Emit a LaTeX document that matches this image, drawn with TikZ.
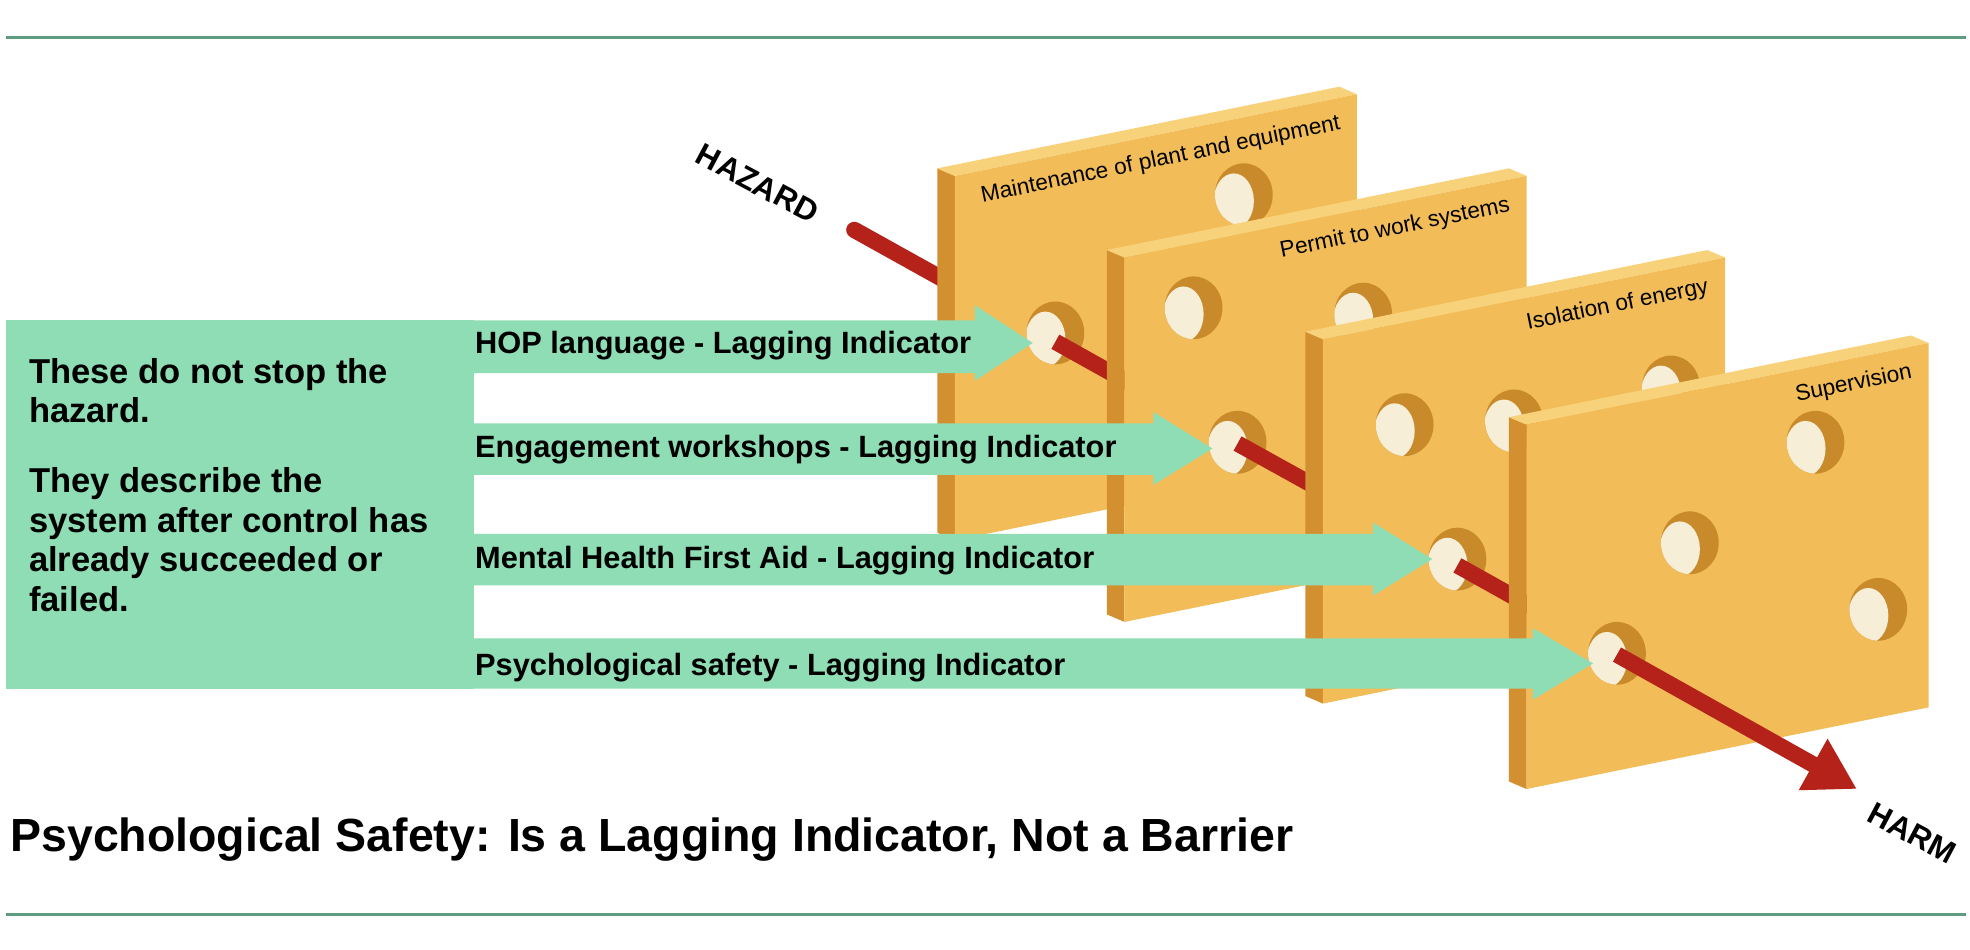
\documentclass[tikz,border=0pt]{standalone}
\usepackage{fontspec}
\setmainfont{Liberation Sans}
\usetikzlibrary{calc,arrows.meta}
\definecolor{gbox}{HTML}{8FDDB5}
\definecolor{gline}{HTML}{5E9C80}
\definecolor{redl}{HTML}{B5221A}
\definecolor{pfront}{HTML}{F2BD58}
\definecolor{pside}{HTML}{D39030}
\definecolor{ptop}{HTML}{F8D27A}
\definecolor{hdark}{HTML}{C98A2C}
\definecolor{hlight}{HTML}{F6EED6}
\tikzset{
  lbl/.style={font=\fontsize{18}{20}\selectfont, rotate=11.5, anchor=north east, inner sep=0pt},
  armtext/.style={font=\bfseries\fontsize{24.5}{26}\selectfont, anchor=west, inner sep=0pt},
  redseg/.style={redl, line width=13pt},
  redarrow/.style={redl, line width=13pt, -{Triangle[length=40pt,width=44pt]}},
}
\newcommand\slab[4]{%
  \fill[pside] (#1,#2) -- ++(-14,-6) -- ++(0,290) -- ++(14,6) -- cycle;
  \fill[ptop] (#1,#2) -- ++(-14,-6) -- ++(320,-65) -- ++(14,6) -- cycle;
  \fill[pfront] (#1,#2) -- ++(320,-65) -- ++(0,290) -- ++(-320,65) -- cycle;
  \node[lbl] (#4) at ($(#1,#2)+(305,-50)$) {#3};}
\newcommand\hole[2]{%
  \begin{scope}
  \fill[hdark] (#1,#2) ellipse [x radius=23, y radius=25];
  \clip (#1,#2) ellipse [x radius=23, y radius=25];
  \fill[hlight] (#1-8,#2+5) ellipse [x radius=16, y radius=22];
  \end{scope}}
\begin{document}
\begin{tikzpicture}[x=1pt,y=-1pt]
\useasboundingbox (0,0) rectangle (1568,756);
\fill[white] (0,0) rectangle (1568,756);
\draw[gline, line width=2pt] (5,30) -- (1565,30);
\draw[gline, line width=2pt] (5,728) -- (1565,728);
\coordinate (hz) at (680,183);
\coordinate (h1) at (840,272);
\coordinate (h2) at (985,353);
\coordinate (h3) at (1160,450);
\coordinate (h4) at (1287,521);
\coordinate (hm) at (1478,628);
\draw[redseg, line cap=round] (hz) -- (h1);
\slab{760}{140}{Maintenance of plant and equipment}{l1}
\hole{990}{155}\hole{840}{265}
\draw[redseg] (h1) -- (h2);
\slab{895}{205}{Permit to work systems}{l2}
\hole{950}{245}\hole{1085}{250}\hole{985}{352}
\draw[redseg] (h2) -- (h3);
\slab{1053}{270}{Isolation of energy}{l3}
\hole{1118}{338}\hole{1205}{335}\hole{1330}{308}\hole{1160}{445}
\draw[redseg] (h3) -- (h4);
\slab{1215}{338}{Supervision}{l4}
\hole{1445}{352}\hole{1345}{432}\hole{1495}{485}\hole{1287}{520}
\draw[redarrow] (h4) -- (hm);
% green box and arms
\fill[gbox] (5,255) rectangle (377,548);
\fill[gbox] (377,255) -- (776,255) -- (776,243) -- (822,273) -- (776,303) -- (776,297) -- (377,297) -- cycle;
\fill[gbox] (377,337) -- (918,337) -- (918,328) -- (965,357) -- (918,386) -- (918,378) -- (377,378) -- cycle;
\fill[gbox] (377,425) -- (1093,425) -- (1093,416) -- (1140,445) -- (1093,474) -- (1093,466) -- (377,466) -- cycle;
\fill[gbox] (377,508) -- (1220,508) -- (1220,500) -- (1268,528) -- (1220,557) -- (1220,548) -- (377,548) -- cycle;
\node[armtext] (a1) at (378,275) {HOP language - Lagging Indicator};
\node[armtext] (a2) at (378,358) {Engagement workshops - Lagging Indicator};
\node[armtext] (a3) at (378,446) {Mental Health First Aid - Lagging Indicator};
\node[armtext] (a4) at (378,531) {Psychological safety - Lagging Indicator};
\node[font=\bfseries\fontsize{27.5}{31.5}\selectfont, anchor=north west, align=left, inner sep=0pt] (box) at (23,285)
 {These do not stop the\\hazard.\\[24pt]They describe the\\system after control has\\already succeeded or\\failed.};
\node[font=\bfseries\fontsize{25}{27}\selectfont, rotate=-28] (hazard) at (603,146) {HAZARD};
\node[font=\bfseries\fontsize{25}{27}\selectfont, rotate=-28] (harm) at (1522,663) {HARM};
\node[font=\bfseries\fontsize{37}{40}\selectfont, anchor=west, inner sep=0pt] (title) at (8,668) {Psychological Safety: Is a Lagging Indicator, Not a Barrier};
\end{tikzpicture}
\end{document}
